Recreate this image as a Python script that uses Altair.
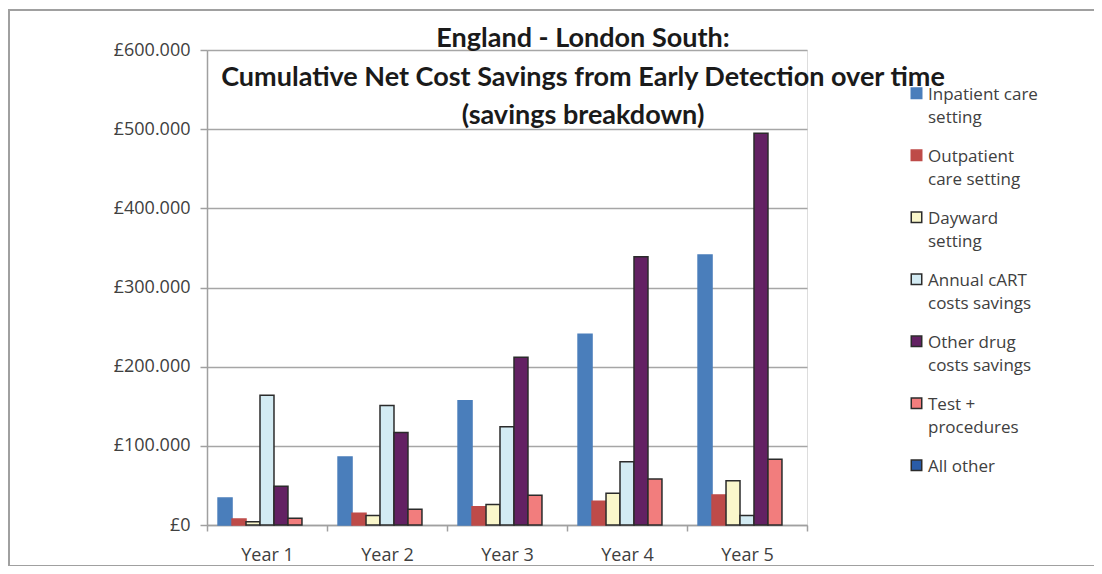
import altair as alt
import pandas as pd

years = ["Year 1", "Year 2", "Year 3", "Year 4", "Year 5"]
series = [
    "Inpatient care|setting",
    "Outpatient|care setting",
    "Dayward|setting",
    "Annual cART|costs savings",
    "Other drug|costs savings",
    "Test +|procedures",
    "All other",
]
inpatient = [34000, 86000, 157000, 241000, 341000]
outpatient = [7500, 15000, 23000, 30000, 38000]
dayward = [4000, 12000, 26000, 40000, 56000]
cart = [164000, 151000, 124000, 80000, 12000]
other_drug = [49000, 117000, 212000, 339000, 495000]
tests = [8500, 20000, 37500, 58000, 83000]
all_other = [0, 0, 0, 0, 0]

fill_colors = ["#4A7EBB", "#BE4B48", "#FAF7CB", "#D3EBF3", "#632163", "#F27D7D", "#2A5CA8"]
stroke_colors = ["#4A7EBB", "#BE4B48", "#2B2B2B", "#2B2B2B", "#2B2B2B", "#2B2B2B", "#2B2B2B"]

values = [inpatient, outpatient, dayward, cart, other_drug, tests, all_other]
rows = []
for s, vals in zip(series, values):
    for y, v in zip(years, vals):
        rows.append({"year": y, "series": s, "value": v})
df = pd.DataFrame(rows)

FONT = "Open Sans"


def make_legend():
    return alt.Legend(
        title=None,
        orient="none",
        legendX=701,
        legendY=28,
        symbolType="M-1,0.3H1V2.3H-1Z",
        symbolSize=110,
        symbolStrokeWidth=1.5,
        labelExpr="split(datum.label, '|')",
        labelFont=FONT,
        labelFontSize=17,
        labelColor="#404040",
        labelBaseline="top",
        labelOffset=3,
        labelLimit=300,
        rowPadding=14,
        padding=0,
    )


bars = (
    alt.Chart(df)
    .transform_filter("datum.value > 0")
    .mark_bar(strokeWidth=1.5)
    .encode(
        x=alt.X(
            "year:N",
            sort=years,
            scale=alt.Scale(paddingInner=0, paddingOuter=0),
            axis=alt.Axis(
                title=None,
                labelAngle=0,
                labelFont=FONT,
                labelFontSize=18,
                labelColor="#404040",
                labelPadding=15,
                tickBand="extent",
                tickSize=6,
                tickColor="#A0A0A0",
                tickWidth=1.5,
                domainColor="#A0A0A0",
                domainWidth=1.5,
                grid=False,
            ),
        ),
        xOffset=alt.XOffset(
            "series:N",
            sort=series,
            scale=alt.Scale(domain=series, paddingInner=0, paddingOuter=0.79),
        ),
        y=alt.Y(
            "value:Q",
            scale=alt.Scale(domain=[0, 600000], nice=False),
            axis=alt.Axis(
                title=None,
                values=[0, 100000, 200000, 300000, 400000, 500000, 600000],
                labelExpr="'£' + replace(format(datum.value, ','), ',', '.')",
                labelFont=FONT,
                labelFontSize=18,
                labelColor="#404040",
                labelPadding=10,
                tickSize=7,
                tickColor="#A0A0A0",
                tickWidth=1.5,
                domainColor="#A0A0A0",
                domainWidth=1.5,
                gridColor="#A6A6A6",
                gridWidth=1.5,
            ),
        ),
        fill=alt.Fill(
            "series:N",
            sort=series,
            scale=alt.Scale(domain=series, range=fill_colors),
            legend=make_legend(),
        ),
        stroke=alt.Stroke(
            "series:N",
            sort=series,
            scale=alt.Scale(domain=series, range=stroke_colors),
            legend=make_legend(),
        ),
    )
)

border = alt.Chart(pd.DataFrame({"k": [0]})).mark_rect(
    fill=None, stroke="#A0A0A0", strokeWidth=2
).encode(
    x=alt.value(-198), x2=alt.value(910), y=alt.value(-40), y2=alt.value(516)
)

chart = (
    alt.layer(border, bars)
    .properties(
        width=600,
        height=475,
        autosize=alt.AutoSizeParams(type="none"),
        padding={"left": 199, "top": 42, "right": 287, "bottom": 41},
        title=alt.TitleParams(
            text=[
                "England - London South:",
                "Cumulative Net Cost Savings from Early Detection over time",
                "(savings breakdown)",
            ],
            font="Lato",
            fontSize=27,
            fontWeight="bold",
            color="#1A1A1A",
            anchor="middle",
            dx=76,
            baseline="top",
            lineHeight=38.5,
            offset=0,
            dy=121,
        ),
    )
    .configure_view(stroke=None)
    .configure(background="white", style={"guide-label": {"lineHeight": 23}})
)

chart.save("out.html", embed_options={"renderer": "svg", "actions": False})
